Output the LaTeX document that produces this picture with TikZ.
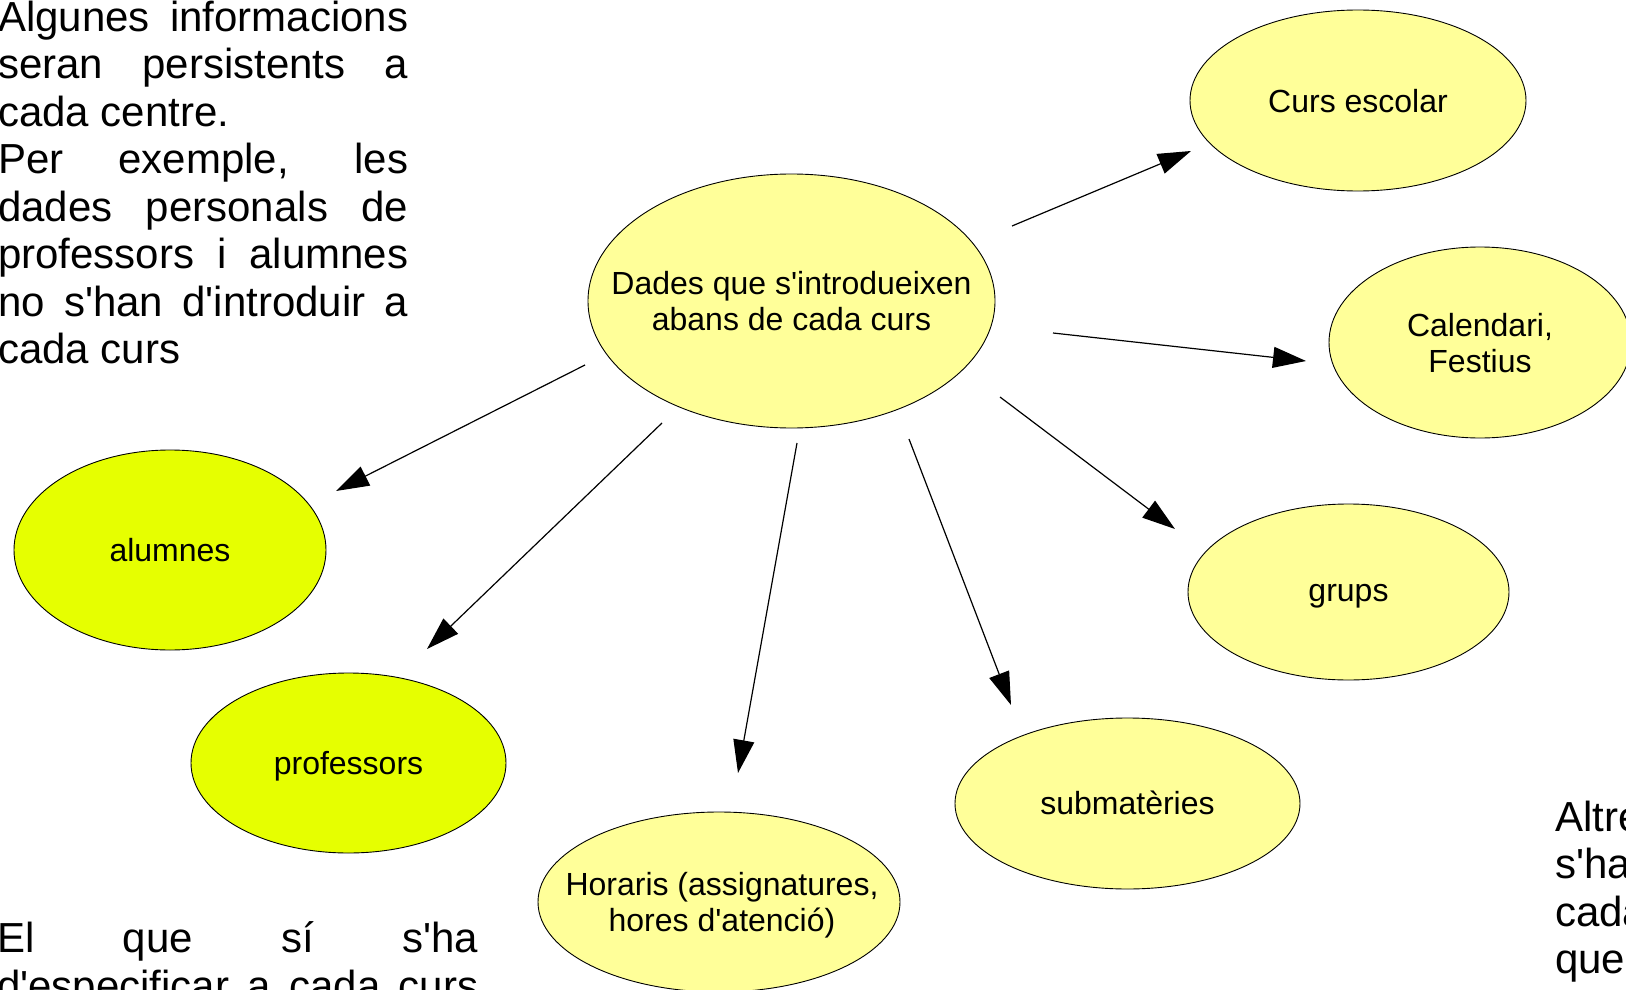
\documentclass[tikz,border=0pt]{standalone}
\usepackage{fontspec}
\setmainfont{Liberation Sans}[Ligatures=TeXOff]
\usetikzlibrary{shapes.geometric,arrows.meta}
\definecolor{lightyel}{HTML}{FFFF99}
\definecolor{limeyel}{HTML}{E6FF00}
\begin{document}
\begin{tikzpicture}[x=1pt,y=-1pt,
  bub/.style={ellipse,draw=black,line width=0.9pt,fill=lightyel,inner sep=0pt},
  lime/.style={bub,fill=limeyel},
  lbl/.style={font=\fontsize{32}{36.5}\selectfont,align=center,inner sep=0pt},
  para/.style={font=\fontsize{42}{47.5}\selectfont,inner sep=0pt,anchor=north west},
  arr/.style={line width=1.2pt,-{Triangle[length=33pt,width=21pt]}}
]
\useasboundingbox (0,0) rectangle (1626,990);
\clip (0,0) rectangle (1626,990);
\fill[white] (0,0) rectangle (1626,990);

% ellipses
\node[bub, minimum width=407pt, minimum height=254pt] (c) at (791.5,301) {};
\node[lbl] (ct) at (c.center) {Dades que s'introdueixen\\abans de cada curs};

\node[bub, minimum width=336pt, minimum height=181pt] (cur) at (1358,100.5) {};
\node[lbl] (curt) at (1358,101.5) {Curs escolar};

\node[bub, minimum width=302pt, minimum height=191pt] (cal) at (1480,342.5) {};
\node[lbl] (calt) at (1480,343) {Calendari,\\Festius};

\node[bub, minimum width=321pt, minimum height=176pt] (gr) at (1348.5,592) {};
\node[lbl] (grt) at (1348.5,596) {grups};

\node[bub, minimum width=345pt, minimum height=171pt] (sub) at (1127.5,803.5) {};
\node[lbl] (subt) at (1127.5,802.5) {submatèries};

\node[bub, minimum width=362pt, minimum height=180pt] (hor) at (719,902) {};
\node[lbl] (hort) at (722,905) {Horaris (assignatures,\\hores d'atenció)};

\node[lime, minimum width=312pt, minimum height=200pt] (alu) at (170,550) {};
\node[lbl] (alut) at (alu.center) {alumnes};

\node[lime, minimum width=315pt, minimum height=180pt] (pro) at (348.5,763) {};
\node[lbl] (prot) at (348.5,766) {professors};

% side texts
\node[para, text width=410pt, align=justify] (tl) at (-2,0.5)
 {\tolerance=10000\hyphenpenalty=10000 Algunes informacions\linebreak seran persistents a\linebreak cada centre.\par
  Per exemple, les\linebreak dades personals de\linebreak professors i alumnes\linebreak no s'han d'introduir a\linebreak cada curs};

\node[para, text width=481pt, align=left] (bl) at (-3,921.5)
 {\makebox[481pt][l]{El\hfill que\hfill sí\hfill s'ha}\\
  \makebox[481pt][l]{d'especificar\hfill a\hfill cada\hfill curs}};

\node[para, text width=300pt, align=left] (br) at (1555,800.5)
 {Altres\\s'han\\cada\\que};

% arrows
\coordinate (a1s) at (1012,226);  \coordinate (a1e) at (1191,151);
\coordinate (a2s) at (1053,333);  \coordinate (a2e) at (1306,361);
\coordinate (a3s) at (1000,397);  \coordinate (a3e) at (1175,529);
\coordinate (a4s) at (909,439);   \coordinate (a4e) at (1011,705);
\coordinate (a5s) at (797,443);   \coordinate (a5e) at (738,773);
\coordinate (a6s) at (662,423);   \coordinate (a6e) at (427,649);
\coordinate (a7s) at (585,365);   \coordinate (a7e) at (336,491);

\draw[arr] (a1s) -- (a1e);
\draw[arr] (a2s) -- (a2e);
\draw[arr] (a3s) -- (a3e);
\draw[arr] (a4s) -- (a4e);
\draw[arr] (a5s) -- (a5e);
\draw[arr] (a6s) -- (a6e);
\draw[arr] (a7s) -- (a7e);
\end{tikzpicture}
\end{document}
